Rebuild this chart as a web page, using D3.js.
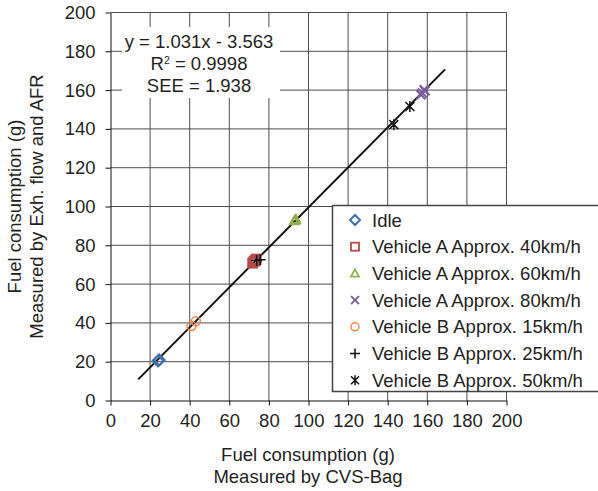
<!DOCTYPE html>
<html>
<head>
<meta charset="utf-8">
<script src="https://cdn.jsdelivr.net/npm/d3@7"></script>
<style>
  body { margin: 0; background: #fff; }
  svg { font-family: "Liberation Sans", Arial, sans-serif; }
</style>
</head>
<body>
<div id="chart"></div>
<script>
/* DATA */
const ticks = [0, 20, 40, 60, 80, 100, 120, 140, 160, 180, 200];
const seriesNames = [
  "Idle",
  "Vehicle A Approx. 40km/h",
  "Vehicle A Approx. 60km/h",
  "Vehicle A Approx. 80km/h",
  "Vehicle B Approx. 15km/h",
  "Vehicle B Approx. 25km/h",
  "Vehicle B Approx. 50km/h"
];
const seriesColors = ["#3d6fb0", "#b54a48", "#8fb04e", "#7b5ea0", "#e8894a", "#111", "#111"];
const seriesSymbols = ["diamond", "square", "triangle", "x", "circle", "plus", "asterisk"];
// [cvs bag, exh flow] per series
const idle = [[24.0, 20.4], [24.6, 20.9]];
const vehA40 = [[71.8, 70.8], [72.4, 71.6], [73.1, 72.2], [73.6, 72.9]];
const vehA60 = [[92.8, 92.6], [93.2, 93.0], [93.6, 93.4]];
const vehA80 = [[156.8, 157.6], [157.5, 158.5], [158.4, 160.2], [158.9, 159.7]];
const vehB15 = [[40.9, 38.4], [43.1, 40.8]];
const vehB25 = [[73.8, 72.2], [75.6, 72.5]];
const vehB50 = [[143.1, 142.2], [151.2, 151.5]];
const seriesData = [idle, vehA40, vehA60, vehA80, vehB15, vehB25, vehB50];
const fitSlope = 1.031, fitIntercept = -3.563;
const fitRange = [14, 169];
const fitLabels = ["y = 1.031x - 3.563", "R2 = 0.9998", "SEE = 1.938"];

/* LAYOUT */
const width = 598, height = 491;
const x = d3.scaleLinear().domain([0, 200]).range([110.5, 506.5]);
const y = d3.scaleLinear().domain([0, 200]).range([400.5, 12.5]);
const textColor = "#231f20";
const fs = "18.5px";

const svg = d3.select("#chart").append("svg")
  .attr("width", width).attr("height", height);

// GRID
svg.append("g").selectAll("line.vg").data(ticks.slice(1)).join("line")
  .attr("x1", d => x(d)).attr("x2", d => x(d))
  .attr("y1", y(0)).attr("y2", y(200))
  .attr("stroke", "#4d4d4d").attr("stroke-width", 1);
svg.append("g").selectAll("line.hg").data(ticks.slice(1)).join("line")
  .attr("x1", x(0)).attr("x2", x(200))
  .attr("y1", d => y(d)).attr("y2", d => y(d))
  .attr("stroke", "#4d4d4d").attr("stroke-width", 1);

// AXES
const xAxis = svg.append("g").attr("transform", `translate(0,${y(0)})`)
  .call(d3.axisBottom(x).tickValues(ticks).tickSize(5).tickSizeOuter(0).tickPadding(8));
const yAxis = svg.append("g").attr("transform", `translate(${x(0)},0)`)
  .call(d3.axisLeft(y).tickValues(ticks).tickSize(5).tickSizeOuter(0).tickPadding(10));
[xAxis, yAxis].forEach(a => {
  a.select(".domain").attr("stroke", "#111");
  a.selectAll(".tick line").attr("stroke", "#111");
  a.selectAll(".tick text").attr("fill", textColor)
    .style("font-size", fs).style("font-family", "Liberation Sans, Arial, sans-serif");
});
xAxis.selectAll(".tick text").attr("dy", "0.72em");

// ANNOTATION BOX
svg.append("rect").attr("x", 122).attr("y", 27).attr("width", 158).attr("height", 71)
  .attr("fill", "#fff");
const ann = svg.append("text").attr("text-anchor", "middle").attr("fill", textColor)
  .style("font-size", fs);
ann.append("tspan").attr("x", 199).attr("y", 48).text(fitLabels[0]);
const r2 = ann.append("tspan").attr("x", 199).attr("y", 70);
r2.append("tspan").text("R");
r2.append("tspan").attr("dy", -6).style("font-size", "10.5px").text("2");
r2.append("tspan").attr("dy", 6).text(" = 0.9998");
ann.append("tspan").attr("x", 199).attr("y", 92).text(fitLabels[2]);

// FIT LINE
svg.append("line")
  .attr("x1", x(fitRange[0])).attr("y1", y(fitSlope * fitRange[0] + fitIntercept))
  .attr("x2", x(fitRange[1])).attr("y2", y(fitSlope * fitRange[1] + fitIntercept))
  .attr("stroke", "#111").attr("stroke-width", 2);

// MARKERS
function marker(g, type, color, s) {
  const h = s / 2;
  if (type === "diamond") {
    g.append("path").attr("d", `M0,${-h - 1}L${h + 1},0L0,${h + 1}L${-h - 1},0Z`)
      .attr("fill", "none").attr("stroke", color).attr("stroke-width", 2);
  } else if (type === "square") {
    g.append("rect").attr("x", -h).attr("y", -h).attr("width", s).attr("height", s)
      .attr("fill", "none").attr("stroke", color).attr("stroke-width", 1.8);
  } else if (type === "triangle") {
    g.append("path").attr("d", `M0,${-h}L${h},${h * 0.8}L${-h},${h * 0.8}Z`)
      .attr("fill", "none").attr("stroke", color).attr("stroke-width", 1.8);
  } else if (type === "circle") {
    g.append("circle").attr("r", h).attr("fill", "none").attr("stroke", color).attr("stroke-width", 1.5);
  } else if (type === "x") {
    g.append("path").attr("d", `M${-h},${-h}L${h},${h}M${-h},${h}L${h},${-h}`)
      .attr("stroke", color).attr("stroke-width", 2);
  } else if (type === "plus") {
    g.append("path").attr("d", `M${-h - 1},0L${h + 1},0M0,${-h - 1}L0,${h + 1}`)
      .attr("stroke", color).attr("stroke-width", 1.5);
  } else if (type === "asterisk") {
    g.append("path").attr("d", `M${-h},${-h}L${h},${h}M${-h},${h}L${h},${-h}M0,${-h - 1}L0,${h + 1}`)
      .attr("stroke", color).attr("stroke-width", 1.5);
  }
}
seriesData.forEach((pts, i) => {
  pts.forEach(p => {
    const g = svg.append("g").attr("transform", `translate(${x(p[0])},${y(p[1])})`);
    marker(g, seriesSymbols[i], seriesColors[i], 9);
  });
});

// LEGEND
const lg = svg.append("g");
lg.append("rect").attr("x", 332.5).attr("y", 205.5).attr("width", 270).attr("height", 186)
  .attr("fill", "#fff").attr("stroke", "#444").attr("stroke-width", 1.5);
seriesNames.forEach((name, i) => {
  const yy = 220 + i * 26.7;
  const g = lg.append("g").attr("transform", `translate(355,${yy})`);
  marker(g, seriesSymbols[i], seriesColors[i], 8);
  lg.append("text").attr("x", 372).attr("y", yy).attr("dy", "0.36em")
    .attr("fill", textColor).style("font-size", fs).text(name);
});

// AXIS TITLES
const xt = svg.append("text").attr("text-anchor", "middle").attr("fill", textColor)
  .style("font-size", fs);
xt.append("tspan").attr("x", 308).attr("y", 461).text("Fuel consumption (g)");
xt.append("tspan").attr("x", 308).attr("y", 483).text("Measured by CVS-Bag");
const yt = svg.append("text").attr("text-anchor", "middle").attr("fill", textColor)
  .attr("transform", `translate(0,${y(100)}) rotate(-90)`).style("font-size", fs);
yt.append("tspan").attr("x", 0).attr("y", 21).text("Fuel consumption (g)");
yt.append("tspan").attr("x", 0).attr("y", 43).text("Measured by Exh. flow and AFR");
</script>
</body>
</html>
